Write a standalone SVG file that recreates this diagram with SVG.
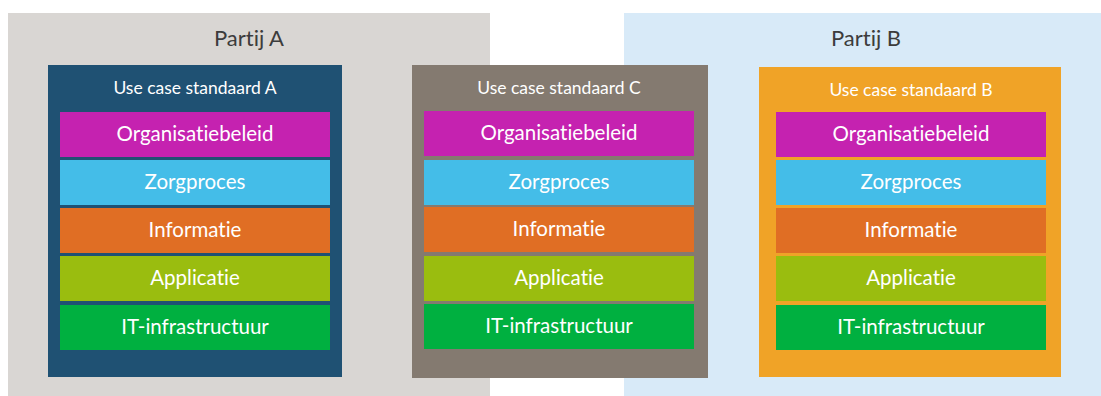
<svg xmlns="http://www.w3.org/2000/svg" width="1101" height="396" viewBox="0 0 1101 396">
<style>
text{font-family:Lato,"Open Sans","Liberation Sans",sans-serif;text-anchor:middle;font-variant-ligatures:none;font-feature-settings:"liga" 0,"clig" 0,"dlig" 0}
.party{font-size:22px;fill:#3c3c3c}
.uc{font-size:17.5px;fill:#ffffff}
.lt{font-size:20.5px;fill:#ffffff}
.org{fill:#c522b0}.zorg{fill:#44bde8}.info{fill:#e06e24}.app{fill:#9abd0f}.it{fill:#00b040}
</style>
<rect width="1101" height="396" fill="#ffffff"/>
<g id="partijA">
<rect x="8" y="13" width="482" height="383" fill="#d9d6d3"/>
<text class="party" x="249" y="46">Partij A</text>
</g>
<g id="partijB">
<rect x="624" y="13" width="477" height="383" fill="#d8eaf8"/>
<text class="party" x="866" y="46">Partij B</text>
</g>
<g id="standaardA">
<rect x="48" y="65" width="294" height="312" fill="#1f5173"/>
<text class="uc" x="195" y="94">Use case standaard A</text>
<rect class="org" x="60" y="112" width="270" height="45"/>
<text class="lt" x="195" y="141">Organisatiebeleid</text>
<rect class="zorg" x="60" y="160" width="270" height="45"/>
<text class="lt" x="195" y="189">Zorgproces</text>
<rect class="info" x="60" y="208" width="270" height="45"/>
<text class="lt" x="195" y="237">Informatie</text>
<rect class="app" x="60" y="256" width="270" height="45"/>
<text class="lt" x="195" y="285">Applicatie</text>
<rect class="it" x="60" y="305" width="270" height="45"/>
<text class="lt" x="195" y="334">IT-infrastructuur</text>
</g>
<g id="standaardC">
<rect x="412" y="65" width="296" height="313" fill="#847a70"/>
<text class="uc" x="559" y="94">Use case standaard C</text>
<rect class="org" x="424" y="111" width="270" height="45"/>
<text class="lt" x="559" y="140">Organisatiebeleid</text>
<rect class="zorg" x="424" y="160" width="270" height="45"/>
<text class="lt" x="559" y="189">Zorgproces</text>
<rect class="info" x="424" y="207" width="270" height="45"/>
<text class="lt" x="559" y="236">Informatie</text>
<rect class="app" x="424" y="256" width="270" height="45"/>
<text class="lt" x="559" y="285">Applicatie</text>
<rect class="it" x="424" y="304" width="270" height="45"/>
<text class="lt" x="559" y="333">IT-infrastructuur</text>
</g>
<g id="standaardB">
<rect x="759" y="67" width="302" height="310" fill="#f0a327"/>
<text class="uc" x="911" y="96">Use case standaard B</text>
<rect class="org" x="776" y="112" width="270" height="45"/>
<text class="lt" x="911" y="141">Organisatiebeleid</text>
<rect class="zorg" x="776" y="160" width="270" height="45"/>
<text class="lt" x="911" y="189">Zorgproces</text>
<rect class="info" x="776" y="208" width="270" height="45"/>
<text class="lt" x="911" y="237">Informatie</text>
<rect class="app" x="776" y="256" width="270" height="45"/>
<text class="lt" x="911" y="285">Applicatie</text>
<rect class="it" x="776" y="305" width="270" height="45"/>
<text class="lt" x="911" y="334">IT-infrastructuur</text>
</g>
<g id="connectors"/>
</svg>
